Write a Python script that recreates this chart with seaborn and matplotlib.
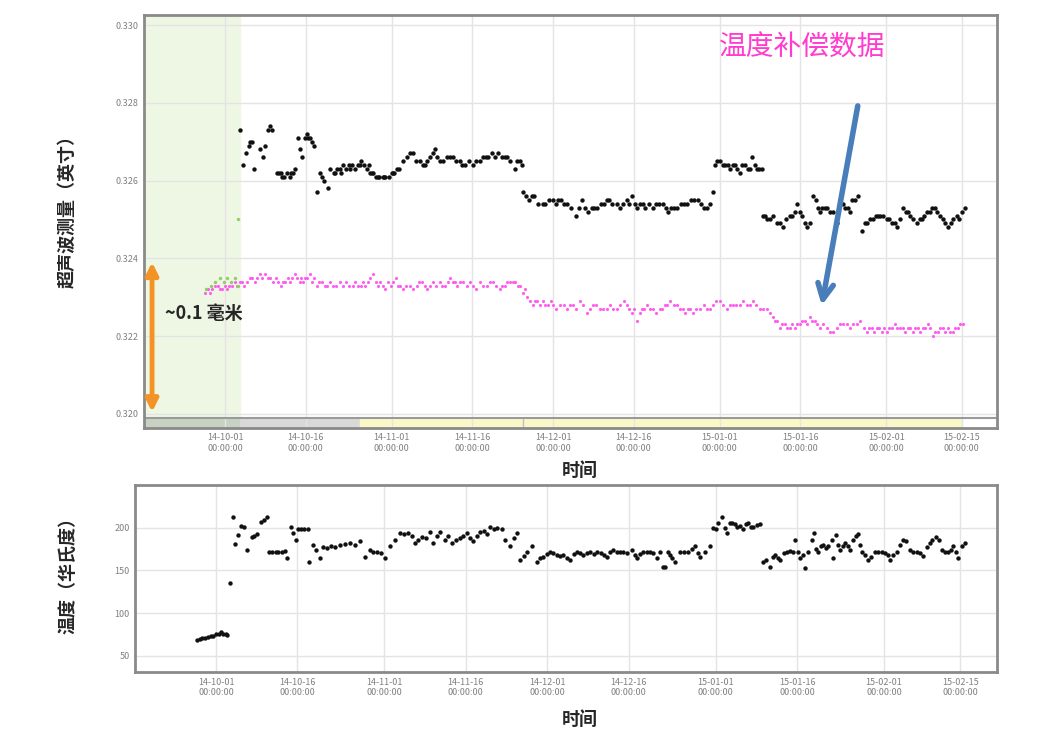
import numpy as np
import pandas as pd
import matplotlib
matplotlib.use("Agg")
import matplotlib.pyplot as plt
import seaborn as sns

# days counted from 2014-10-01
base = pd.Timestamp("2014-10-01")

raw_days = [2.8, 3.3, 3.9, 4.4, 4.6, 5.0, 5.4, 6.5, 7.1, 7.4, 8.0, 8.4, 8.7, 9.7, 10.0, 10.3, 10.6, 10.9,
            11.5, 12.0, 12.3, 12.6, 13.0, 13.6, 13.9, 14.3, 14.9, 15.2, 15.4, 15.8, 16.2, 16.6,
            17.1, 17.7, 18.0, 18.4, 19.2, 19.6, 20.2, 20.5, 20.8, 21.3, 21.6, 21.9, 22.5, 23.0, 23.3, 23.6,
            24.2, 24.8, 25.1, 25.3, 25.9, 26.4, 26.7,
            27.0, 27.3, 27.6, 28.1, 28.4, 28.7, 29.3, 29.6, 29.8, 30.4, 31.0, 31.3, 31.5, 32.0, 32.4,
            33.1, 33.8, 34.4, 35.0, 35.6, 36.3, 36.8, 37.2, 37.6, 38.1, 38.6, 39.1, 39.5, 40.0, 40.5, 41.3,
            41.8, 42.4, 43.0, 43.7, 44.1, 44.6, 45.3, 46.1, 46.7, 47.4, 48.0, 48.5, 48.9, 49.6, 50.2, 50.8,
            51.5, 52.0, 52.4, 53.0, 53.9, 54.3, 54.8, 55.2,
            55.4, 56.0, 56.5, 57.0, 57.5, 58.2, 59.1, 59.6, 60.2, 61.0, 61.6, 62.0, 62.5, 63.1, 63.6, 64.4,
            65.3, 65.8, 66.4, 66.9, 67.5, 68.2, 68.7, 69.2, 70.0, 70.5, 71.0, 71.5, 72.0, 72.9, 73.4, 74.0,
            74.8, 75.2, 75.7, 76.2, 76.6, 77.1, 77.7, 78.2, 78.8, 79.6, 80.2, 80.7, 81.5, 82.0, 82.4, 83.0,
            83.5, 84.1, 84.8, 85.4, 85.9, 86.6, 87.3, 88.0, 88.5, 89.1, 89.6, 90.2, 90.8,
            91.1, 91.6, 92.1, 92.6, 93.0, 93.5, 93.9, 94.4, 94.8, 95.3, 95.8, 96.2, 96.7, 97.2, 97.6, 98.0,
            98.5, 98.9, 99.4, 99.9,
            100.1, 100.5, 100.8, 101.4, 102.0, 102.7, 103.2, 103.8, 104.4, 105.1, 105.5, 106.0, 106.4, 106.9,
            107.4, 107.8, 108.2, 108.8, 109.4, 109.9, 110.3, 110.7, 111.1, 111.6, 112.0, 112.5, 113.0, 113.8,
            114.4, 114.9, 115.3, 115.8, 116.2, 116.7, 117.2, 117.7, 118.5, 119.0, 119.4, 119.9, 120.5, 121.0,
            121.4, 121.8, 122.4, 123.1, 123.6, 124.0, 124.6, 125.0, 125.5, 126.1, 126.6, 127.0, 127.4, 128.0,
            128.7, 129.2, 129.6, 130.1, 130.6, 131.2, 131.6, 132.0, 132.5, 133.0, 133.5, 134.0, 134.5, 135.0,
            135.4, 136.1, 136.6, 137.1, 137.6]
raw_vals = [0.3273, 0.3264, 0.3267, 0.3269, 0.3270, 0.3270, 0.3263, 0.3268, 0.3266, 0.3269, 0.3273, 0.3274, 0.3273,
            0.3262, 0.3262, 0.3262, 0.3261, 0.3261, 0.3262, 0.3261, 0.3262, 0.3262, 0.3263, 0.3271, 0.3268, 0.3266,
            0.3271, 0.3272, 0.3271, 0.3271, 0.3270, 0.3269,
            0.3257, 0.3262, 0.3261, 0.3260, 0.3258, 0.3263, 0.3262, 0.3262, 0.3263, 0.3263, 0.3262, 0.3264, 0.3263,
            0.3264, 0.3263, 0.3264, 0.3263, 0.3264, 0.3264, 0.3265, 0.3264, 0.3263, 0.3264,
            0.3262, 0.3262, 0.3262, 0.3261, 0.3261, 0.3261, 0.3261, 0.3261, 0.3261, 0.3261, 0.3262, 0.3262, 0.3262,
            0.3263, 0.3263,
            0.3265, 0.3266, 0.3267, 0.3267, 0.3265, 0.3265, 0.3264, 0.3264, 0.3265, 0.3266, 0.3267, 0.3268, 0.3266,
            0.3265, 0.3265, 0.3266, 0.3266, 0.3266, 0.3265, 0.3265, 0.3264, 0.3264, 0.3265, 0.3264, 0.3265, 0.3265,
            0.3266, 0.3266, 0.3266, 0.3267, 0.3266, 0.3267, 0.3266, 0.3266, 0.3266, 0.3265, 0.3263, 0.3265, 0.3265,
            0.3264,
            0.3257, 0.3256, 0.3255, 0.3256, 0.3256, 0.3254, 0.3254, 0.3254, 0.3255, 0.3255, 0.3254, 0.3255, 0.3255,
            0.3254, 0.3254, 0.3253, 0.3251, 0.3253, 0.3255, 0.3253, 0.3252, 0.3253, 0.3253, 0.3253, 0.3254, 0.3254,
            0.3255, 0.3255, 0.3254, 0.3254, 0.3253, 0.3254, 0.3255, 0.3254, 0.3256, 0.3254, 0.3253, 0.3254, 0.3254,
            0.3253, 0.3254, 0.3253, 0.3254, 0.3254, 0.3254, 0.3253, 0.3252, 0.3253, 0.3253, 0.3253, 0.3254, 0.3254,
            0.3254, 0.3255, 0.3255, 0.3255, 0.3254, 0.3253, 0.3253, 0.3254, 0.3257,
            0.3264, 0.3265, 0.3265, 0.3264, 0.3264, 0.3264, 0.3263, 0.3264, 0.3264, 0.3263, 0.3262, 0.3264, 0.3264,
            0.3263, 0.3263, 0.3266, 0.3264, 0.3263, 0.3263, 0.3263,
            0.3251, 0.3251, 0.3250, 0.3250, 0.3251, 0.3249, 0.3249, 0.3248, 0.3250, 0.3251, 0.3251, 0.3252, 0.3254,
            0.3252, 0.3251, 0.3249, 0.3248, 0.3249, 0.3256, 0.3255, 0.3253, 0.3252, 0.3253, 0.3253, 0.3253, 0.3252,
            0.3252, 0.3249, 0.3255, 0.3254, 0.3253, 0.3253, 0.3252, 0.3255, 0.3255, 0.3256, 0.3247, 0.3249, 0.3249,
            0.3250, 0.3250, 0.3251, 0.3251, 0.3251, 0.3251, 0.3250, 0.3250, 0.3249, 0.3249, 0.3248, 0.3250, 0.3253,
            0.3252, 0.3252, 0.3251, 0.3250, 0.3249, 0.3250, 0.3250, 0.3251, 0.3252, 0.3252, 0.3253, 0.3253, 0.3252,
            0.3251, 0.3250, 0.3249, 0.3248, 0.3249, 0.3250, 0.3251, 0.3250, 0.3252, 0.3253]

# temperature-compensated readings (day, inches)
comp_points = [
    (-3.7, .3231), (-3.4, .3232), (-3.2, .3232), (-2.8, .3231), (-2.4, .3232), (-1.8, .3233), (-1.3, .3233),
    (-0.9, .3232), (-0.6, .3232), (-0.1, .3233), (0.4, .3232), (0.8, .3233), (1.3, .3233), (1.8, .3234),
    (2.2, .3233), (2.7, .3234), (3.2, .3234), (3.6, .3233), (4.1, .3234), (4.6, .3235), (5.0, .3235),
    (5.5, .3234), (6.0, .3235), (6.4, .3236), (6.9, .3235), (7.4, .3236), (7.9, .3235), (8.4, .3235),
    (8.9, .3234), (9.4, .3235), (9.9, .3234), (10.3, .3233), (10.8, .3234), (11.2, .3234), (11.7, .3235),
    (12.1, .3234), (12.5, .3235), (13.0, .3236), (13.4, .3235), (13.9, .3234), (14.2, .3235), (14.5, .3234),
    (14.9, .3235), (15.3, .3235), (15.8, .3236), (16.2, .3234), (16.6, .3235), (17.1, .3233), (17.5, .3234),
    (18.0, .3234), (18.5, .3233), (19.0, .3233), (19.5, .3234), (20.1, .3233), (20.7, .3233), (21.4, .3234),
    (21.9, .3233), (22.5, .3234), (23.1, .3233), (23.8, .3233), (24.2, .3234), (24.7, .3233), (25.2, .3233),
    (25.7, .3234), (26.1, .3233), (26.6, .3234), (27.0, .3235), (27.5, .3236), (28.0, .3234), (28.5, .3233),
    (28.9, .3234), (29.4, .3233), (29.8, .3232), (30.3, .3234), (30.8, .3233), (31.2, .3234), (31.7, .3235),
    (32.2, .3233), (32.6, .3233), (33.1, .3232), (33.7, .3233), (34.4, .3233), (35.0, .3232), (35.7, .3233),
    (36.1, .3234), (36.6, .3234), (37.1, .3233), (37.6, .3232), (38.2, .3233), (38.7, .3234), (39.3, .3233),
    (40.0, .3234), (40.4, .3233), (40.9, .3233), (41.4, .3234), (41.8, .3235), (42.3, .3234), (42.8, .3234),
    (43.2, .3233), (43.7, .3234), (44.3, .3234), (45.0, .3233), (45.5, .3234), (46.1, .3233), (46.7, .3232),
    (47.4, .3234), (48.0, .3233), (48.7, .3233), (49.2, .3234), (49.8, .3234), (50.4, .3233), (51.1, .3232),
    (51.6, .3233), (52.1, .3233), (52.5, .3234), (53.0, .3234), (53.5, .3234), (53.9, .3234), (54.4, .3233),
    (54.9, .3233), (55.4, .3231), (55.8, .3232), (56.2, .3230), (56.8, .3229), (57.3, .3228), (57.6, .3229),
    (58.0, .3229), (58.6, .3228), (59.1, .3229), (59.6, .3228), (60.1, .3228), (60.6, .3229), (61.0, .3228),
    (61.6, .3227), (62.3, .3228), (63.0, .3228), (63.6, .3227), (64.1, .3228), (64.7, .3228), (65.3, .3227),
    (66.0, .3229), (66.6, .3228), (67.3, .3226), (67.8, .3227), (68.4, .3228), (69.0, .3228), (69.7, .3227),
    (70.3, .3227), (71.0, .3227), (71.6, .3228), (72.2, .3227), (72.9, .3227), (73.5, .3228), (74.2, .3229),
    (74.8, .3228), (75.2, .3227), (75.7, .3226), (76.1, .3227), (76.6, .3224), (77.1, .3226), (77.6, .3227),
    (78.0, .3227), (78.5, .3228), (79.0, .3227), (79.6, .3227), (80.2, .3226), (80.9, .3227), (81.3, .3227),
    (81.8, .3228), (82.3, .3228), (82.8, .3229), (83.5, .3228), (84.1, .3228), (84.6, .3227), (85.2, .3227),
    (85.6, .3226), (86.1, .3227), (86.5, .3227), (87.0, .3226), (87.6, .3227), (88.3, .3227), (89.0, .3228),
    (89.6, .3227), (90.2, .3227), (90.8, .3228), (91.4, .3229), (92.1, .3229), (92.7, .3228), (93.4, .3227),
    (93.9, .3228), (94.5, .3228), (95.1, .3228), (95.8, .3228), (96.4, .3229), (97.1, .3228), (97.6, .3228),
    (98.2, .3229), (98.8, .3228), (99.5, .3227), (100.1, .3227), (100.8, .3227), (101.3, .3226), (101.9, .3225),
    (102.3, .3224), (102.7, .3224), (103.2, .3222), (103.6, .3223), (104.1, .3223), (104.6, .3222), (105.1, .3222),
    (105.5, .3223), (106.0, .3222), (106.4, .3223), (106.9, .3223), (107.4, .3224), (107.9, .3224), (108.3, .3223),
    (108.8, .3225), (109.2, .3224), (109.7, .3224), (110.2, .3223), (110.7, .3222), (111.3, .3223), (112.0, .3222),
    (112.5, .3221), (113.1, .3221), (113.8, .3222), (114.4, .3223), (115.0, .3223), (115.7, .3223), (116.2, .3222),
    (116.8, .3223), (117.5, .3223), (118.1, .3224), (118.8, .3222), (119.4, .3221), (119.8, .3222), (120.3, .3222),
    (120.8, .3221), (121.3, .3222), (121.7, .3222), (122.2, .3221), (122.6, .3222), (123.1, .3221), (123.6, .3222),
    (124.0, .3222), (124.6, .3223), (125.0, .3222), (125.5, .3222), (126.1, .3222), (126.5, .3221), (127.0, .3222),
    (127.5, .3222), (128.0, .3221), (128.4, .3222), (128.9, .3222), (129.3, .3221), (129.8, .3222), (130.2, .3222),
    (130.7, .3223), (131.2, .3222), (131.7, .3220), (132.1, .3221), (132.6, .3221), (133.0, .3222), (133.5, .3222),
    (134.0, .3221), (134.5, .3222), (134.9, .3221), (135.4, .3221), (135.8, .3222), (136.3, .3222), (136.8, .3223),
    (137.3, .3223),
]

warm_days = [-3.5, -2.6, -1.8, -1.0, -0.3, 0.4, 1.1, 1.8, 2.3, 2.4]
warm_vals = [0.3232, 0.3233, 0.3234, 0.3235, 0.3234, 0.3235, 0.3234, 0.3235, 0.3233, 0.3250]

temp_days = [-3.5, -3.0, -2.5, -2.0, -1.5, -1.0, -0.5, 0.0, 0.5, 1.0, 1.3, 1.8, 2.1,
             2.6, 3.1, 3.5, 4.1, 4.6, 5.2, 5.7, 6.6, 7.0, 7.6, 8.3, 8.8, 9.4, 9.8, 10.4, 11.0, 11.5, 12.1,
             12.7, 13.1, 13.8, 14.2, 14.7, 15.1, 15.7, 16.2, 16.9, 17.1, 17.9, 18.4, 19.2, 19.7, 20.4, 21.2,
             21.9, 22.8, 23.8, 24.7, 25.6, 26.5, 27.4, 28.4, 28.9, 29.7, 30.4, 31.1, 32.0, 33.0, 33.9, 34.6,
             35.4, 36.1, 36.6, 37.2, 37.9, 38.7, 39.4, 39.9, 40.7, 41.2, 42.2, 42.7, 43.5, 44.2, 44.9, 45.5,
             46.2, 46.8, 47.3, 48.1, 48.6, 49.4, 49.9, 50.5, 51.2, 51.7, 52.7, 53.2, 54.1, 54.9, 55.4,
             56.0, 56.7, 57.3, 58.2, 59.1, 59.7, 60.2, 61.0, 61.5, 62.1, 62.8, 63.4, 63.9, 64.6, 65.2, 65.9,
             66.5, 67.0, 67.6, 68.3, 68.9, 69.6, 70.2, 70.9, 71.5, 72.0, 72.6, 73.1, 73.8, 74.4, 75.0, 75.7,
             76.6, 77.2, 77.5, 78.1, 78.6, 79.4, 79.9, 80.5, 81.2, 81.8, 82.3, 82.7, 83.2, 83.6, 84.0, 84.5,
             85.5, 86.2, 86.9, 87.7, 88.2, 88.8, 89.1, 90.1, 91.0,
             91.5, 92.1, 92.4, 93.2, 93.7, 94.1, 94.7, 95.0, 95.6, 95.9, 96.5, 97.0, 97.6, 97.9, 98.5, 98.9,
             99.6, 100.2,
             100.7, 101.3, 102.0, 102.6, 102.9, 103.5, 103.9, 104.6, 105.2, 105.7, 106.3, 106.6, 107.2, 107.6,
             108.1, 108.5, 109.0, 109.8, 110.1, 110.5, 110.9, 111.4, 111.8, 112.3, 112.7, 113.4, 113.6, 114.2,
             114.5, 114.9, 115.5, 115.8, 116.4, 116.8, 117.3, 117.9, 118.2, 118.6, 119.0, 119.5, 120.1, 120.6,
             121.4, 121.9, 122.7, 123.2, 123.8, 124.1, 124.7, 125.4, 126.0, 126.5, 127.1, 127.8, 128.4, 129.1,
             129.7, 130.2, 130.9, 131.5, 131.9, 132.6, 133.1, 133.7, 134.3, 134.8, 135.4, 135.7, 136.3, 136.6,
             137.4, 137.9]
temp_vals = [68, 70, 71, 71, 72, 73, 73, 75, 76, 78, 75, 76, 74,
             135, 213, 181, 191, 202, 201, 174, 189, 190, 192, 207, 209, 213, 172, 172, 171, 172, 172,
             173, 164, 201, 194, 185, 199, 198, 199, 199, 160, 180, 174, 164, 177, 176, 179,
             177, 180, 181, 182, 180, 184, 166, 174, 172, 172, 170, 165, 178, 186, 194, 192,
             194, 190, 182, 186, 189, 188, 195, 182, 190, 195, 186, 190, 182, 186, 188, 190,
             194, 188, 184, 190, 195, 196, 192, 201, 199, 200, 198, 186, 179, 188, 194,
             162, 167, 172, 178, 160, 165, 166, 169, 171, 170, 168, 167, 168, 165, 162, 169,
             171, 170, 168, 170, 171, 169, 172, 170, 168, 166, 172, 174, 171, 172, 172, 170,
             174, 168, 165, 169, 171, 172, 172, 170, 165, 172, 154, 154, 172, 168, 165, 160,
             172, 172, 172, 175, 178, 170, 166, 172, 178,
             200, 198, 206, 213, 200, 194, 206, 206, 204, 201, 202, 198, 204, 206, 201, 201,
             203, 204,
             160, 162, 154, 166, 168, 164, 162, 170, 172, 173, 172, 186, 172, 165,
             168, 153, 172, 186, 194, 175, 172, 178, 180, 176, 178, 186, 164, 191,
             180, 174, 178, 182, 178, 174, 186, 190, 192, 180, 172, 168, 162, 166,
             171, 172, 172, 170, 168, 162, 168, 171, 180, 186, 184, 174, 172, 172,
             170, 167, 177, 182, 186, 189, 186, 174, 172, 172, 174, 178, 172, 165,
             178, 182]

tick_days = ["2014-10-01", "2014-10-16", "2014-11-01", "2014-11-16", "2014-12-01",
             "2014-12-16", "2015-01-01", "2015-01-16", "2015-02-01", "2015-02-15"]
top_yticks = [0.320, 0.322, 0.324, 0.326, 0.328, 0.330]
bottom_yticks = [50, 100, 150, 200]


def when(days):
    return base + pd.to_timedelta(np.asarray(days, dtype=float), unit="D")


raw_df = pd.DataFrame({"t": when(raw_days), "v": raw_vals})
comp_df = pd.DataFrame(comp_points, columns=["d", "v"])
comp_df["t"] = when(comp_df["d"])
warm_df = pd.DataFrame({"t": when(warm_days), "v": warm_vals})
temp_df = pd.DataFrame({"t": when(temp_days), "v": temp_vals})

sns.set_style("white")
plt.rcParams["font.family"] = ["Noto Sans CJK SC", "DejaVu Sans"]

fig = plt.figure(figsize=(10.51, 7.34), dpi=100)
ax1 = fig.add_axes([0.137, 0.417, 0.8116, 0.5627])
ax2 = fig.add_axes([0.1285, 0.0845, 0.8202, 0.2548])

ticks = pd.to_datetime(tick_days)
tick_labels = [t.strftime("%y-%m-%d") + "\n00:00:00" for t in ticks]

# --- top: ultrasonic thickness ---
x0, x1 = when([-15.1])[0], when([143.6])[0]
band = 0.024
ax1.axvspan(x0, when([2.8])[0], ymin=band, ymax=1, color="#eef6e4", zorder=0)
ax1.axvspan(x0, when([2.8])[0], ymin=0, ymax=band, color="#c8d2c2", zorder=0)
ax1.axvspan(when([2.8])[0], when([25.1])[0], ymin=0, ymax=band, color="#d9d9d9", zorder=0)
ax1.axvspan(when([25.1])[0], when([137.1])[0], ymin=0, ymax=band, color="#fbf8c8", zorder=0)
ax1.axvline(when([55.4])[0], ymin=0, ymax=band, color="#c0c0c0", lw=1)

sns.scatterplot(data=raw_df, x="t", y="v", ax=ax1, color="#111111", s=10, linewidth=0, zorder=3)
sns.scatterplot(data=comp_df, x="t", y="v", ax=ax1, color="#ff5cf0", s=5, linewidth=0, zorder=3)
sns.scatterplot(data=warm_df, x="t", y="v", ax=ax1, color="#8fcf63", s=6, linewidth=0, zorder=3)

ax1.set_xlim(x0, x1)
ax1.set_ylim(0.31964, 0.33026)
ax1.axhline(0.31990, color="#9a9a9a", lw=1.5, zorder=2)
ax1.set_yticks(top_yticks)
ax1.set_yticklabels([f"{v:.3f}" for v in top_yticks])
ax1.set_xticks(ticks)
ax1.set_xticklabels(tick_labels)

ax1.annotate("", xy=(when([111.0])[0], 0.32279), xytext=(when([117.7])[0], 0.32792),
             arrowprops=dict(arrowstyle="->", color="#4a7ebb", lw=4, mutation_scale=28,
                             shrinkA=0, shrinkB=0))
ax1.text(when([107.3])[0], 0.32941, "温度补偿数据", color="#ff3ccf", fontsize=20,
         ha="center", va="center")
ax1.annotate("", xy=(when([-13.6])[0], 0.32005), xytext=(when([-13.6])[0], 0.32390),
             arrowprops=dict(arrowstyle="<|-|>", color="#f39325", lw=3.5, mutation_scale=18,
                             shrinkA=0, shrinkB=0))
ax1.text(when([-11.2])[0], 0.32259, "~0.1 毫米", fontsize=13, fontweight="bold",
         ha="left", va="center")

# --- bottom: temperature ---
sns.scatterplot(data=temp_df, x="t", y="v", ax=ax2, color="#111111", s=10, linewidth=0, zorder=3)
ax2.set_xlim(when([-14.9])[0], when([143.8])[0])
ax2.set_ylim(31, 250)
ax2.set_yticks(bottom_yticks)
ax2.set_xticks(ticks)
ax2.set_xticklabels(tick_labels)

for ax in (ax1, ax2):
    ax.set_axisbelow(True)
    ax.grid(True, color="#e4e4e4", lw=1)
    for sp in ax.spines.values():
        sp.set_color("#8a8a8a")
        sp.set_linewidth(2)
    ax.tick_params(length=0, labelsize=6.5, labelcolor="#808080", pad=4)

ax1.set_xlabel("时间", fontsize=13, fontweight="bold")
ax1.xaxis.set_label_coords(0.511, -0.080)
ax1.set_ylabel("超声波测量（英寸）", fontsize=13, fontweight="bold")
ax1.yaxis.set_label_coords(-0.079, 0.535)

ax2.set_xlabel("时间", fontsize=13, fontweight="bold")
ax2.xaxis.set_label_coords(0.516, -0.203)
ax2.set_ylabel("温度（华氏度）", fontsize=13, fontweight="bold")
ax2.yaxis.set_label_coords(-0.067, 0.54)

fig.savefig("out.png", dpi=100)
